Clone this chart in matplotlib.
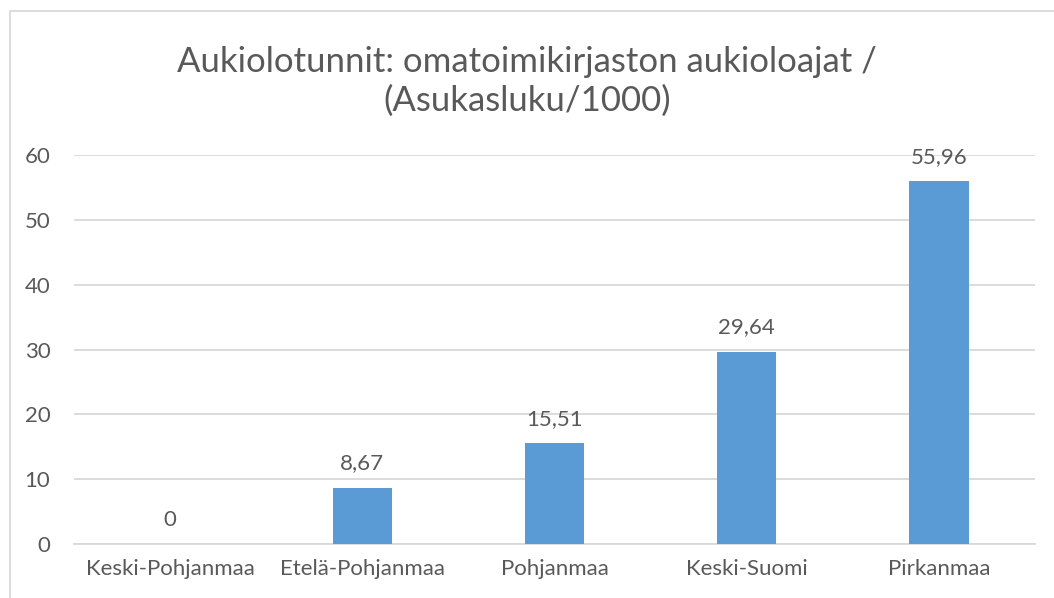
import matplotlib.pyplot as plt
from matplotlib.patches import Rectangle

regions = ["Keski-Pohjanmaa", "Etelä-Pohjanmaa", "Pohjanmaa", "Keski-Suomi", "Pirkanmaa"]
values = [0, 8.67, 15.51, 29.64, 55.96]
value_labels = ["0", "8,67", "15,51", "29,64", "55,96"]
yticks = [0, 10, 20, 30, 40, 50, 60]

plt.rcParams['font.family'] = ['Lato', 'DejaVu Sans']
grey = '#595959'

fig = plt.figure(figsize=(10.54, 5.98), dpi=100)
ax = fig.add_axes([74 / 1054, 1 - 544 / 598, (1035 - 74) / 1054, (544 - 155) / 598])

x = range(len(regions))
ax.bar(x, values, width=0.31, color='#5B9BD5', zorder=3)
for xi, v, lab in zip(x, values, value_labels):
    ax.text(xi, v + 2.2, lab, ha='center', va='bottom', fontsize=16, color=grey)

ax.set_xlim(-0.5, len(regions) - 0.5)
ax.set_ylim(0, 60)
ax.set_yticks(yticks)
ax.set_yticklabels([str(t) for t in yticks], fontsize=16, color=grey)
ax.set_xticks(list(x))
ax.set_xticklabels(regions, fontsize=16, color=grey)
ax.tick_params(length=0)
ax.tick_params(axis='y', pad=17)
ax.tick_params(axis='x', pad=11)
ax.grid(axis='y', color='#D9D9D9', linewidth=1.3, zorder=0)
for s in ['top', 'right', 'left']:
    ax.spines[s].set_visible(False)
ax.spines['bottom'].set_color('#D9D9D9')
ax.spines['bottom'].set_linewidth(1.3)

fig.text(0.5, 1 - 62 / 598, "Aukiolotunnit: omatoimikirjaston aukioloajat /",
         ha='center', va='center', fontsize=25, color=grey)
fig.text(0.5, 1 - 101 / 598, "(Asukasluku/1000)",
         ha='center', va='center', fontsize=25, color=grey)

# chart border
fig.patches.append(Rectangle((10 / 1054, -0.1), 1.2, 1 - 11 / 598 + 0.1,
                             transform=fig.transFigure, fill=False,
                             edgecolor='#D9D9D9', linewidth=1.3))

fig.savefig('out.png', dpi=100)
